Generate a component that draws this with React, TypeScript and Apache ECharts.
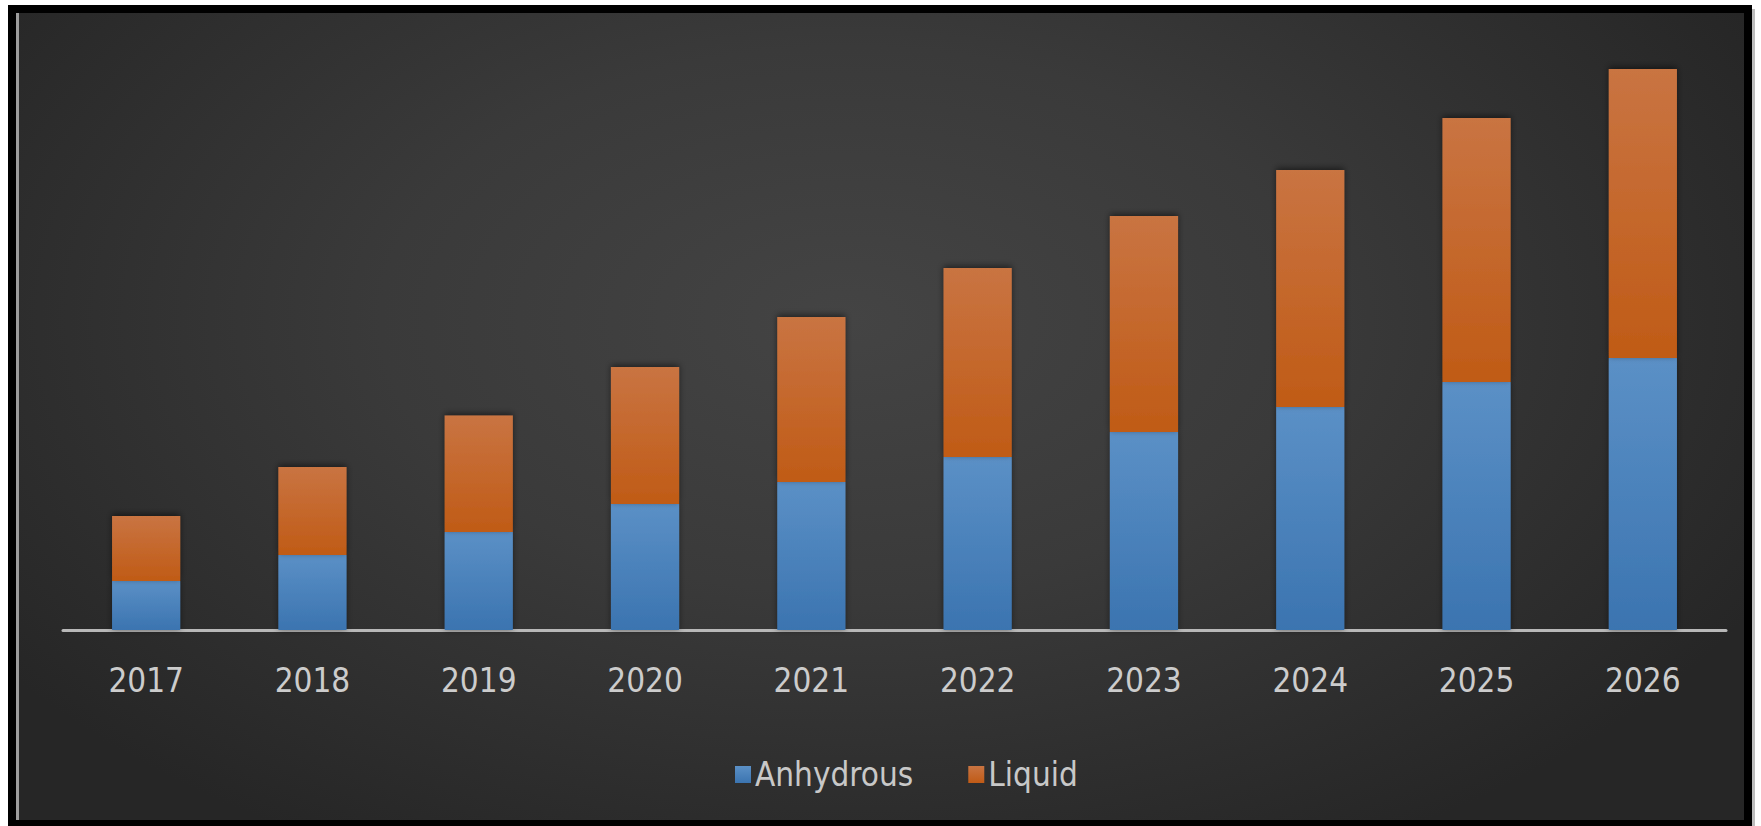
import React, { useEffect, useRef } from "react";
import * as echarts from "echarts";

const years = ["2017", "2018", "2019", "2020", "2021", "2022", "2023", "2024", "2025", "2026"];
const anhydrous = [4.9, 7.5, 9.8, 12.6, 14.8, 17.3, 19.8, 22.3, 24.8, 27.2];
const liquid = [6.5, 8.8, 11.65, 13.7, 16.5, 18.9, 21.6, 23.7, 26.4, 28.9];
const seriesNames = ["Anhydrous", "Liquid"];

const FONT = "'Liberation Sans Narrow', 'DejaVu Sans Condensed', 'Liberation Sans', sans-serif";

export default function App() {
  const ref = useRef<HTMLDivElement>(null);

  useEffect(() => {
    document.body.style.margin = "0";
    const chart = echarts.init(ref.current!, undefined, { renderer: "svg" });
    const blue = new echarts.graphic.LinearGradient(0, 0, 0, 1, [
      { offset: 0, color: "#5b90c6" },
      { offset: 1, color: "#3b74b0" },
    ]);
    const orange = new echarts.graphic.LinearGradient(0, 0, 0, 1, [
      { offset: 0, color: "#c97442" },
      { offset: 1, color: "#c05b16" },
    ]);
    chart.setOption({
      animation: false,
      backgroundColor: "transparent",
      grid: { left: 63, right: 35, top: 30, bottom: 196, containLabel: false },
      legend: {
        data: seriesNames,
        left: 730,
        top: 753,
        itemWidth: 16,
        itemHeight: 17,
        itemGap: 55,
        icon: "rect",
        textStyle: { color: "#c8c8c8", fontSize: 33, fontFamily: FONT, padding: [0, 0, 0, -1] },
      },
      xAxis: {
        type: "category",
        data: years,
        axisLine: { show: true, lineStyle: { color: "#b8b8b8", width: 3 } },
        axisTick: { show: false },
        axisLabel: { color: "#cccccc", fontSize: 33, fontFamily: FONT, margin: 34 },
      },
      yAxis: {
        type: "value",
        min: 0,
        max: 60,
        show: false,
        splitLine: { show: false },
      },
      series: [
        {
          name: seriesNames[0],
          type: "bar",
          stack: "total",
          data: anhydrous,
          barWidth: "41%",
          itemStyle: {
            color: blue,
            shadowColor: "rgba(0,0,0,0.45)",
            shadowBlur: 6,
          },
        },
        {
          name: seriesNames[1],
          type: "bar",
          stack: "total",
          data: liquid,
          barWidth: "41%",
          itemStyle: {
            color: orange,
            shadowColor: "rgba(0,0,0,0.5)",
            shadowBlur: 6,
            shadowOffsetY: -2,
          },
        },
      ],
      color: ["#4a86c3", "#c8672a"],
    });
    return () => chart.dispose();
  }, []);

  return (
    <div style={{ position: "absolute", left: 0, top: 0, width: 1761, height: 826, background: "#ffffff", overflow: "hidden" }}>
      <div style={{ position: "absolute", left: 8, top: 5, width: 1744, height: 821, background: "#000000" }} />
      <div style={{ position: "absolute", left: 1752, top: 9, width: 3, height: 817, background: "#bdbdbd" }} />
      <div style={{ position: "absolute", left: 16, top: 13, width: 3, height: 807, background: "#9c9c9c" }} />
      <div
        style={{
          position: "absolute",
          left: 19,
          top: 13,
          width: 1725,
          height: 807,
          background: "radial-gradient(ellipse 60% 75% at 48% 38%, #444444 0%, #3a3a3a 45%, #262626 100%)",
        }}
      />
      <div ref={ref} style={{ position: "absolute", left: 0, top: 0, width: 1761, height: 826 }} />
    </div>
  );
}
